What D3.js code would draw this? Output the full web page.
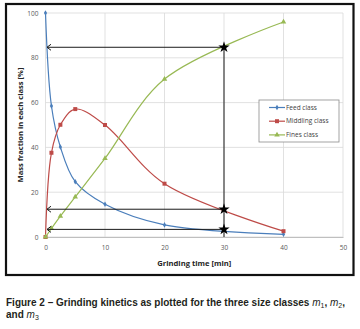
<!DOCTYPE html>
<html lang="en">
<head>
<meta charset="utf-8">
<script src="https://d3js.org/d3.v7.min.js"></script>
<style>
  body { margin: 0; background: #fff; }
  .tick text { font-family: "Open Sans", "Liberation Sans", sans-serif; font-size: 6.5px; fill: #595959; }
  .grid line { stroke: #d9d9d9; stroke-width: 0.8px; }
  .axtitle { font-family: "Open Sans", "Liberation Sans", sans-serif; font-size: 7.6px; font-weight: bold; fill: #262626; }
  .legend text { font-family: "Open Sans", "Liberation Sans", sans-serif; font-size: 6.5px; fill: #404040; }
  .caption { font-family: "Liberation Sans", Arial, sans-serif; font-size: 10px; font-weight: bold; fill: #231f20; }
</style>
</head>
<body>
<svg width="360" height="329" id="chart"></svg>
<script>
// data
const times = [0, 1, 2.5, 5, 10, 20, 40];
const feed = [100, 58.5, 40.2, 24.7, 14.6, 5.4, 1.2];
const middling = [0, 37.6, 50.1, 57.1, 50, 23.8, 2.6];
const fines = [0, 3.8, 9.3, 17.9, 35.1, 70.5, 96];
const seriesNames = ["Feed class", "Middling class", "Fines class"];
const seriesColors = ["#4a7ebb", "#be4b48", "#98b954"];
const xTicks = [0, 10, 20, 30, 40, 50];
const yTicks = [0, 20, 40, 60, 80, 100];
// reading at t = 30 min
const readTime = 30;
const readValues = [84.7, 12.4, 3.4];

const svg = d3.select("#chart");
const plot = { left: 45.5, right: 343, top: 13, bottom: 237 };

const x = d3.scaleLinear().domain([0, 50]).range([plot.left, plot.right]);
const y = d3.scaleLinear().domain([0, 100]).range([plot.bottom, plot.top]);

// outer frame
svg.append("rect")
  .attr("x", 6).attr("y", 4).attr("width", 347.5).attr("height", 271)
  .attr("fill", "#fff").attr("stroke", "#111").attr("stroke-width", 2.2);

// gridlines
svg.append("g").attr("class", "grid")
  .selectAll("line").data(yTicks).join("line")
  .attr("x1", plot.left).attr("x2", plot.right)
  .attr("y1", d => y(d)).attr("y2", d => y(d));
svg.append("g").attr("class", "grid")
  .selectAll("line").data(xTicks).join("line")
  .attr("y1", plot.top).attr("y2", plot.bottom)
  .attr("x1", d => x(d)).attr("x2", d => x(d));

// axes (labels only, Excel style)
const xAxis = svg.append("g").attr("transform", `translate(0,${plot.bottom})`)
  .call(d3.axisBottom(x).tickValues(xTicks).tickSize(0).tickPadding(8));
xAxis.select(".domain").attr("stroke", "#bfbfbf");
const yAxis = svg.append("g").attr("transform", `translate(${plot.left},0)`)
  .call(d3.axisLeft(y).tickValues(yTicks).tickSize(0).tickPadding(7));
yAxis.select(".domain").remove();

svg.append("text").attr("class", "axtitle")
  .attr("x", (plot.left + plot.right) / 2).attr("y", 265.5)
  .attr("text-anchor", "middle").text("Grinding time [min]");
svg.append("text").attr("class", "axtitle")
  .attr("transform", `translate(22.5,${(plot.top + plot.bottom) / 2}) rotate(-90)`)
  .attr("text-anchor", "middle").text("Mass fraction in each class [%]");

// series
const data = [feed, middling, fines].map(vals => times.map((t, i) => ({ t: t, v: vals[i] })));
const line = d3.line().x(d => x(d.t)).y(d => y(d.v)).curve(d3.curveCatmullRom.alpha(0.5));
const symbols = [d3.symbolDiamond, d3.symbolSquare, d3.symbolTriangle];
const symSizes = [9, 16, 13];

data.forEach((pts, k) => {
  svg.append("path").datum(pts)
    .attr("fill", "none").attr("stroke", seriesColors[k]).attr("stroke-width", 1.2)
    .attr("d", line);
  svg.append("g").selectAll("path").data(pts).join("path")
    .attr("transform", d => `translate(${x(d.t)},${y(d.v)})`)
    .attr("d", d3.symbol().type(symbols[k]).size(symSizes[k]))
    .attr("fill", seriesColors[k]);
});

// reading lines at t = 30
const guide = svg.append("g").attr("stroke", "#1a1a1a").attr("stroke-width", 1).attr("fill", "none");
guide.append("line")
  .attr("x1", x(readTime)).attr("x2", x(readTime))
  .attr("y1", y(d3.max(readValues))).attr("y2", y(0));
readValues.forEach(v => {
  const ax = x(0) + 1.5;
  guide.append("line")
    .attr("x1", x(readTime)).attr("x2", ax)
    .attr("y1", y(v)).attr("y2", y(v));
  guide.append("path")
    .attr("d", `M${ax + 4},${y(v) - 3} L${ax},${y(v)} L${ax + 4},${y(v) + 3}`);
});
svg.append("g").selectAll("path").data(readValues).join("path")
  .attr("transform", v => `translate(${x(readTime)},${y(v)})`)
  .attr("d", d3.symbol().type(d3.symbolStar).size(40))
  .attr("fill", "#000");

// legend
const lg = svg.append("g").attr("class", "legend").attr("transform", "translate(259,100)");
lg.append("rect").attr("width", 80).attr("height", 42)
  .attr("fill", "#fff").attr("stroke", "#8c8c8c").attr("stroke-width", 0.8);
seriesNames.forEach((name, k) => {
  const row = lg.append("g").attr("transform", `translate(0,${7.5 + k * 13.7})`);
  row.append("line").attr("x1", 10).attr("x2", 26)
    .attr("stroke", seriesColors[k]).attr("stroke-width", 1.2);
  row.append("path").attr("transform", "translate(18,0)")
    .attr("d", d3.symbol().type(symbols[k]).size(symSizes[k]))
    .attr("fill", seriesColors[k]);
  row.append("text").attr("x", 27).attr("dy", "0.35em").text(name);
});

// caption
const cap = svg.append("text").attr("class", "caption").attr("x", 6).attr("y", 306);
cap.append("tspan").text("Figure 2 \u2013 Grinding kinetics as plotted for the three size classes ");
cap.append("tspan").attr("font-style", "italic").attr("font-weight", "normal").text("m");
cap.append("tspan").attr("font-size", "7px").attr("dy", 2).attr("font-weight", "normal").text("1");
cap.append("tspan").attr("dy", -2).text(", ");
cap.append("tspan").attr("font-style", "italic").attr("font-weight", "normal").text("m");
cap.append("tspan").attr("font-size", "7px").attr("dy", 2).attr("font-weight", "normal").text("2");
cap.append("tspan").attr("dy", -2).text(",");
const cap2 = svg.append("text").attr("class", "caption").attr("x", 6).attr("y", 318);
cap2.append("tspan").text("and ");
cap2.append("tspan").attr("font-style", "italic").attr("font-weight", "normal").text("m");
cap2.append("tspan").attr("font-size", "7px").attr("dy", 2).attr("font-weight", "normal").text("3");
</script>
</body>
</html>
